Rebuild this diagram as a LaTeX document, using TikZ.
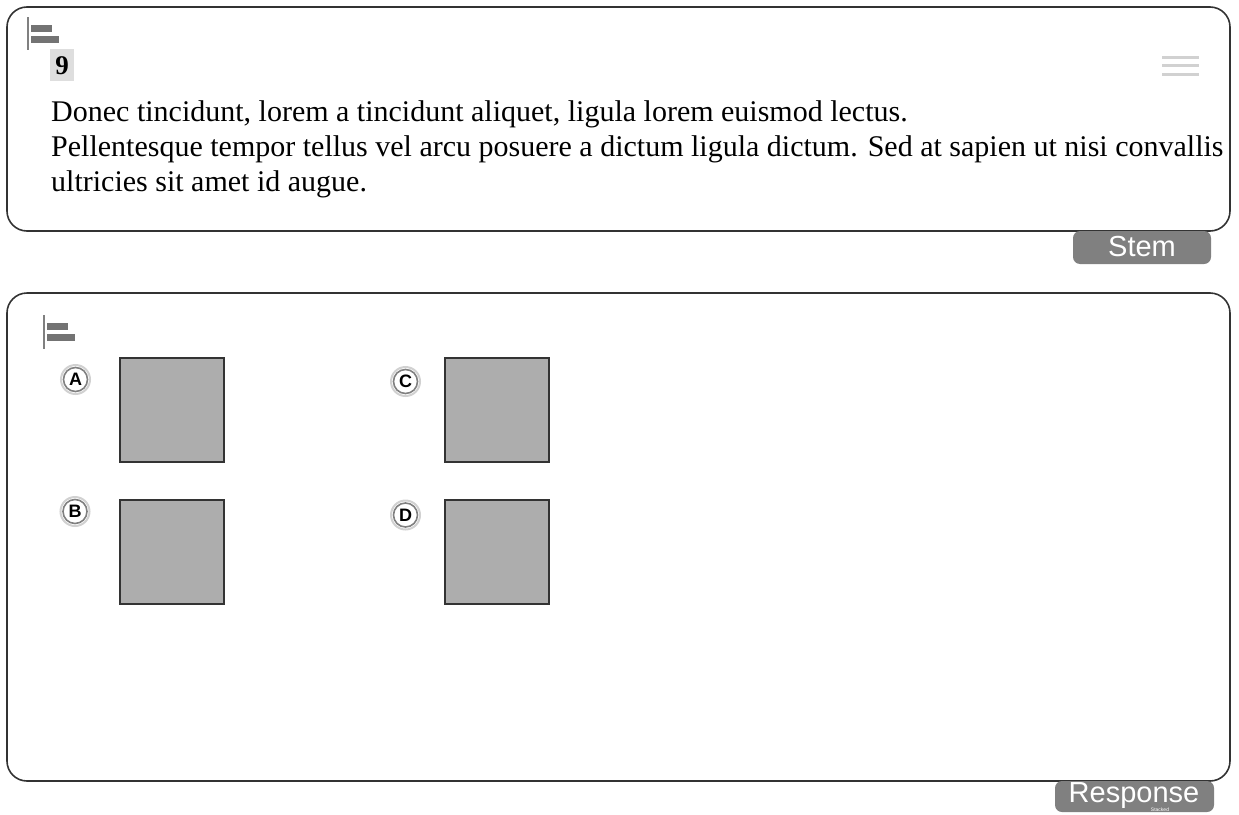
\documentclass[tikz,border=0pt]{standalone}
\usepackage{fontspec}
\setmainfont{Liberation Serif}
\setsansfont{Liberation Sans}
\begin{document}
\begin{tikzpicture}[x=1pt,y=-1pt,
  panel/.style={draw=black!80, line width=1.6pt, rounded corners=20pt},
  tagbox/.style={fill=black!50, rounded corners=7pt},
  icobar/.style={fill=black!55},
  icoline/.style={draw=black!50, line width=2pt},
  burger/.style={draw=black!18, line width=3pt},
  choice/.style={circle, draw=black!50, line width=1.6pt, fill=white, minimum size=24pt, inner sep=0pt, font=\sffamily\bfseries\fontsize{18}{18}\selectfont},
  halo/.style={draw=black!18, line width=2pt},
  imgbox/.style={draw=black!80, fill=black!32, line width=1.6pt},
  bodytext/.style={anchor=base west, inner sep=0pt, font=\fontsize{30}{34}\selectfont}
]
\useasboundingbox (0,0) rectangle (1239,814);
% ---- Stem panel
\draw[panel] (7,7) rectangle (1230,231);
\draw[icoline] (27.5,17) -- (27.5,50);
\fill[icobar] (31,25) rectangle (52,31.5);
\fill[icobar] (31,36) rectangle (59,42.5);
\fill[black!13] (50,49) rectangle (74,81);
\node[anchor=base, inner sep=0pt, font=\bfseries\fontsize{27}{27}\selectfont] (num) at (62,74) {9};
\draw[burger] (1162,57) -- (1199,57);
\draw[burger] (1162,65.5) -- (1199,65.5);
\draw[burger] (1162,74) -- (1199,74);
\node[bodytext] (l1) at (51,121) {Donec tincidunt, lorem a tincidunt aliquet, ligula lorem euismod lectus.};
\node[bodytext] (l2) at (51,156) {Pellentesque tempor tellus vel arcu posuere a dictum ligula dictum. Sed at sapien ut nisi convallis};
\node[bodytext] (l3) at (51,191) {ultricies sit amet id augue.};
\fill[tagbox] (1073,231) rectangle (1211,264);
\node[anchor=base, inner sep=0pt, text=white, font=\sffamily\fontsize{29}{29}\selectfont] (stem) at (1142,256) {Stem};
% ---- Response panel
\draw[panel] (7,293) rectangle (1230,781);
\draw[icoline] (44,315) -- (44,349);
\fill[icobar] (47,323) rectangle (68,329.5);
\fill[icobar] (47,334) rectangle (75,340.5);
% choices
\draw[halo] (75.5,379.5) circle (14.5);
\node[choice] (ca) at (75.5,379.5) {A};
\draw[halo] (75,511.5) circle (14.5);
\node[choice] (cb) at (75,511.5) {B};
\draw[halo] (405.5,381.5) circle (14.5);
\node[choice] (cc) at (405.5,381.5) {C};
\draw[halo] (405.5,515) circle (14.5);
\node[choice] (cd) at (405.5,515) {D};
\draw[imgbox] (120,358) rectangle (224,462);
\draw[imgbox] (445,358) rectangle (549,462);
\draw[imgbox] (120,500) rectangle (224,604);
\draw[imgbox] (445,500) rectangle (549,604);
\fill[tagbox] (1055,781) rectangle (1214,812);
\node[anchor=base, inner sep=0pt, text=white, font=\sffamily\fontsize{29}{29}\selectfont] (resp) at (1134,802) {Response};
\node[anchor=base, inner sep=0pt, text=white, font=\sffamily\fontsize{5}{5}\selectfont] (stk) at (1160,811) {Stacked};
\end{tikzpicture}
\end{document}
